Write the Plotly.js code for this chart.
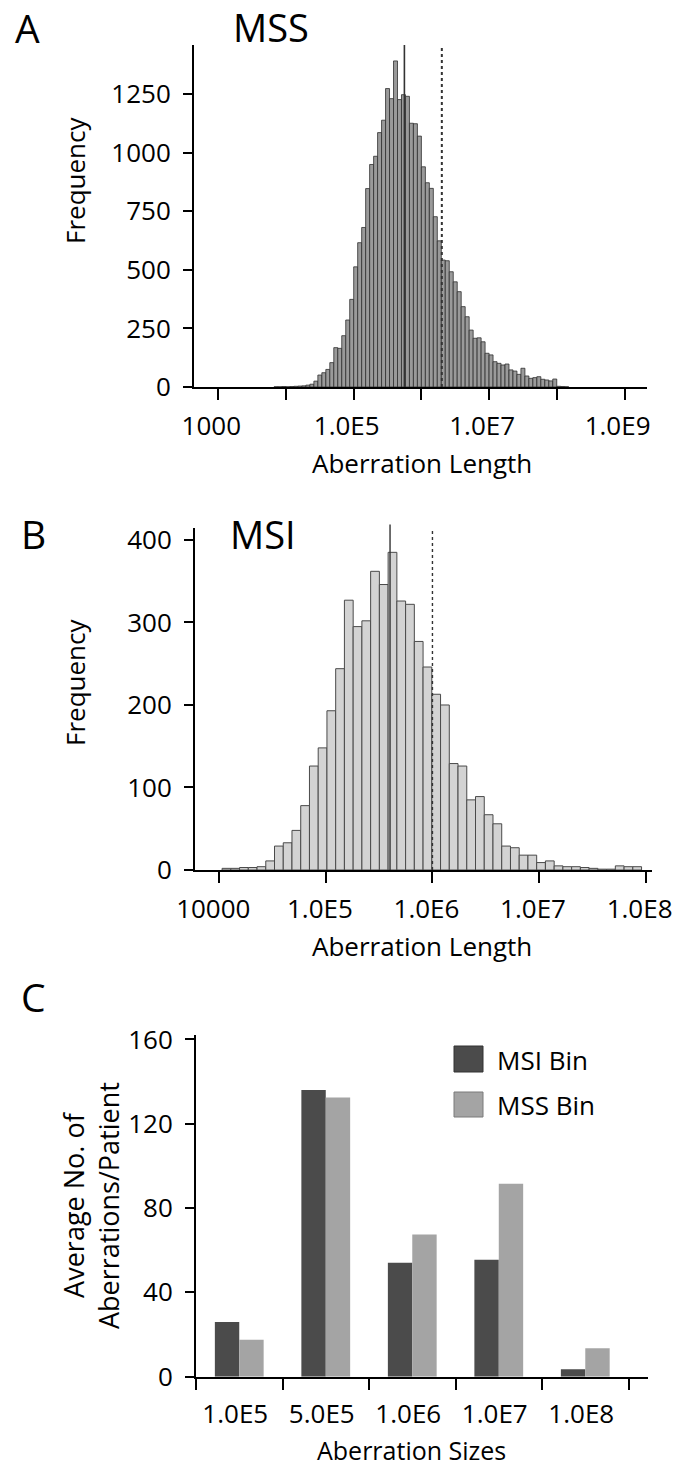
<!DOCTYPE html>
<html>
<head>
<meta charset="utf-8">
<script src="https://cdn.plot.ly/plotly-3.0.1.min.js"></script>
<style>html,body{margin:0;padding:0;background:#fff}</style>
</head>
<body>
<div id="chart" style="width:675px;height:1466px"></div>
<script>
// ---------- Panel A: MSS histogram (bins in log10 of aberration length) ----------
const mssCounts = [1, 1, 2, 1, 2, 3, 4, 5, 8, 12,
  25, 51, 61, 75, 104, 168, 165, 219, 286, 374,
  513, 616, 681, 847, 950, 985, 1086, 1139, 1274, 1231,
  1392, 1227, 1248, 1241, 1126, 1124, 1071, 940, 872, 848,
  727, 624, 542, 539, 492, 449, 407, 343, 300, 243,
  208, 210, 193, 144, 137, 108, 101, 94, 98, 73,
  68, 54, 80, 47, 37, 40, 44, 33, 30, 26,
  34, 3, 2, 1];
const mssFirstBinLog = 3.8235;   // log10 of first bin's left edge
const mssBinWidthLog = 0.0588;   // bin width in decades
const mssMedian = 5.6e5;
const mssMean = 2.0e6;
const mssTickExp = [3, 4, 5, 6, 7, 8, 9];
const mssTickText = ['1000', '', '1.0E5', '', '1.0E7', '', '1.0E9'];
const mssYTicks = [0, 250, 500, 750, 1000, 1250];

// ---------- Panel B: MSI histogram ----------
const msiCounts = [2, 2, 3, 3, 4, 11, 29, 33, 48, 78, 126, 148,
  193, 244, 327, 295, 302, 362, 346, 385, 326, 322, 277, 246, 213, 200, 129, 126, 85, 89, 67,
  56, 29, 27, 18, 18, 9, 11, 5, 4, 4, 3, 2, 1, 1, 5, 4, 4];
const msiFirstBinLog = 4.026;
const msiBinWidthLog = 0.082;
const msiMedian = 4.0e5;
const msiMean = 1.0e6;
const msiTickExp = [4, 5, 6, 7, 8];
const msiTickText = ['10000', '1.0E5', '1.0E6', '1.0E7', '1.0E8'];
const msiYTicks = [0, 100, 200, 300, 400];

// ---------- Panel C: average aberrations per patient ----------
const sizeBins = ['1.0E5', '5.0E5', '1.0E6', '1.0E7', '1.0E8'];
const msiBinAvg = [26, 136, 54, 55.5, 3.5];
const mssBinAvg = [17.5, 132.5, 67.5, 91.5, 13.5];
const cYTicks = [0, 40, 80, 120, 160];
const seriesNames = ['MSI Bin', 'MSS Bin'];

// ---------- helpers (pixel -> paper) ----------
const W = 675, H = 1466;
const px = x => x / W;
const py = y => 1 - y / H;
const FONT = '"Open Sans", Lato, sans-serif';
const TICK_SIZE = 26;

const traces = [
  {
    type: 'bar', xaxis: 'x', yaxis: 'y',
    y: mssCounts, x0: mssFirstBinLog + mssBinWidthLog / 2, dx: mssBinWidthLog,
    width: mssBinWidthLog,
    marker: {color: '#9a9a9a', line: {color: '#2e2e2e', width: 0.8}},
    name: 'MSS', hoverinfo: 'y'
  },
  {
    type: 'bar', xaxis: 'x2', yaxis: 'y2',
    y: msiCounts, x0: msiFirstBinLog + msiBinWidthLog / 2, dx: msiBinWidthLog,
    width: msiBinWidthLog,
    marker: {color: '#d3d3d3', line: {color: '#4a4a4a', width: 1}},
    name: 'MSI', hoverinfo: 'y'
  },
  {
    type: 'bar', xaxis: 'x3', yaxis: 'y3',
    x: sizeBins, y: msiBinAvg, name: seriesNames[0],
    marker: {color: '#4b4b4b'}
  },
  {
    type: 'bar', xaxis: 'x3', yaxis: 'y3',
    x: sizeBins, y: mssBinAvg, name: seriesNames[1],
    marker: {color: '#a4a4a4'}
  }
];

function axis(extra) {
  return Object.assign({
    showline: true, linecolor: '#000', linewidth: 2,
    ticks: 'outside', tickcolor: '#000', tickwidth: 2,
    showgrid: false, zeroline: false, fixedrange: true,
    tickfont: {family: FONT, size: TICK_SIZE, color: '#000'},
    ticklabeloverflow: 'allow', automargin: false
  }, extra);
}

const layout = {
  width: W, height: H,
  margin: {l: 0, r: 0, t: 0, b: 0, pad: 0},
  paper_bgcolor: '#fff', plot_bgcolor: 'rgba(0,0,0,0)',
  showlegend: false,
  barmode: 'group', bargap: 0.436, bargroupgap: 0,
  font: {family: FONT, color: '#000', size: TICK_SIZE},
  xaxis: axis({
    domain: [px(194), px(647)], anchor: 'y', range: [2.641, 9.331],
    tickmode: 'array', tickvals: mssTickExp, ticktext: mssTickText, ticklen: 11,
    ticklabelstandoff: 4, ticklabelshift: -7
  }),
  yaxis: axis({
    domain: [py(387), py(45)], anchor: 'x', range: [0, 1460],
    tickmode: 'array', tickvals: mssYTicks, ticklen: 9, ticklabelstandoff: 7
  }),
  xaxis2: axis({
    domain: [px(195), px(652)], anchor: 'y2', range: [3.772, 8.06],
    tickmode: 'array', tickvals: msiTickExp, ticktext: msiTickText, ticklen: 11,
    ticklabelstandoff: 4, ticklabelshift: -6
  }),
  yaxis2: axis({
    domain: [py(870), py(528)], anchor: 'x2', range: [0, 414.5],
    tickmode: 'array', tickvals: msiYTicks, ticklen: 9, ticklabelstandoff: 7
  }),
  xaxis3: axis({
    domain: [px(196), px(648)], anchor: 'y3', range: [-0.5, 4.725],
    type: 'category', tickson: 'boundaries', ticklen: 11,
    ticklabelstandoff: 13, ticklabelshift: -4
  }),
  yaxis3: axis({
    domain: [py(1376.7), py(1035)], anchor: 'x3', range: [0, 162.1],
    tickmode: 'array', tickvals: cYTicks, ticklen: 9, ticklabelstandoff: 7
  }),
  shapes: [
    {type: 'line', xref: 'x', yref: 'y domain', x0: Math.log10(mssMedian), x1: Math.log10(mssMedian), y0: 0, y1: 1,
      line: {color: '#333', width: 1.6}},
    {type: 'line', xref: 'x', yref: 'y domain', x0: Math.log10(mssMean), x1: Math.log10(mssMean), y0: 0, y1: 1,
      line: {color: '#333', width: 2, dash: 'dot'}},
    {type: 'line', xref: 'x2', yref: 'y2 domain', x0: Math.log10(msiMedian), x1: Math.log10(msiMedian), y0: 0, y1: 1.01,
      line: {color: '#333', width: 1.4}},
    {type: 'line', xref: 'x2', yref: 'y2 domain', x0: Math.log10(msiMean), x1: Math.log10(msiMean), y0: 0, y1: 1,
      line: {color: '#333', width: 1.4, dash: 'dot'}},
    // legend keys (panel C)
    {type: 'rect', xref: 'paper', yref: 'paper', x0: px(454), x1: px(483), y0: py(1072), y1: py(1046),
      fillcolor: '#4b4b4b', line: {color: '#333', width: 1}},
    {type: 'rect', xref: 'paper', yref: 'paper', x0: px(454), x1: px(483), y0: py(1117), y1: py(1092),
      fillcolor: '#a4a4a4', line: {color: '#7a7a7a', width: 1}}
  ],
  annotations: []
};

function label(text, x, y, size, opts) {
  layout.annotations.push(Object.assign({
    text: text, xref: 'paper', yref: 'paper', x: px(x), y: py(y),
    xanchor: 'center', yanchor: 'middle', showarrow: false,
    font: {family: FONT, size: size, color: '#000'}
  }, opts || {}));
}

// panel letters & titles
label('A', 27.5, 27, 39);
label('MSS', 271, 27, 38);
label('B', 33, 533, 39);
label('MSI', 262.5, 534, 38);
label('C', 33.5, 996, 39);
// axis titles
label('Frequency', 75, 181, 26, {textangle: -90});
label('Aberration Length', 421.5, 463, 26);
label('Frequency', 75, 683, 26, {textangle: -90});
label('Aberration Length', 422, 946, 26);
label('Average No. of<br>Aberrations/Patient', 91, 1205, 27, {textangle: -90});
label('Aberration Sizes', 411, 1449.5, 25);
// legend labels
label(seriesNames[0], 495, 1060, 26, {xanchor: 'left'});
label(seriesNames[1], 495, 1105, 26, {xanchor: 'left'});

Plotly.newPlot('chart', traces, layout, {staticPlot: true, displayModeBar: false});
</script>
</body>
</html>
